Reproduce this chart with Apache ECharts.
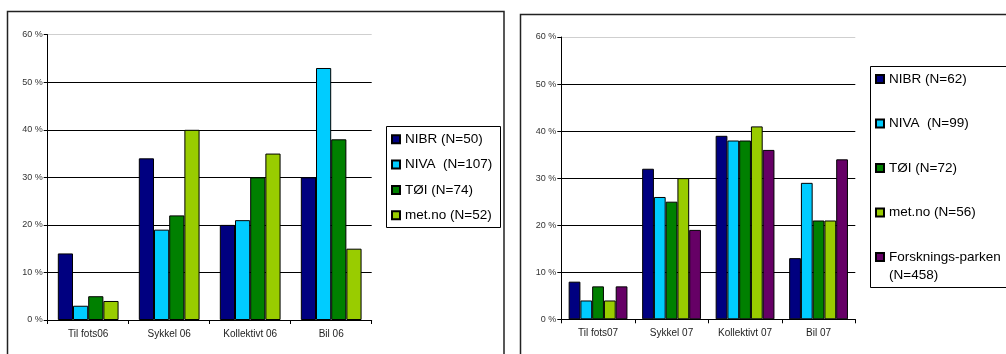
<!DOCTYPE html>
<html>
<head>
<meta charset="utf-8">
<script src="https://cdn.jsdelivr.net/npm/echarts@6/dist/echarts.min.js"></script>
<style>
    html, body { margin: 0; padding: 0; background: #fff; }
    #chart { width: 1006px; height: 354px; }
</style>
</head>
<body>
<div id="chart"></div>
<script>
// 数据

var cats06 = ['Til fots06', 'Sykkel 06', 'Kollektivt 06', 'Bil 06']
var cats07 = ['Til fots07', 'Sykkel 07', 'Kollektivt 07', 'Bil 07']

var names06 = ['NIBR (N=50)', 'NIVA  (N=107)', 'TØI (N=74)', 'met.no (N=52)']
var names07 = ['NIBR (N=62)', 'NIVA  (N=99)', 'TØI (N=72)', 'met.no (N=56)', 'Forsknings-parken (N=458)']

var nibr06 = [14, 34, 20, 30]
var niva06 = [3, 19, 21, 53]
var toi06 = [5, 22, 30, 38]
var met06 = [4, 40, 35, 15]

var nibr07 = [8, 32, 39, 13]
var niva07 = [4, 26, 38, 29]
var toi07 = [7, 25, 38, 21]
var met07 = [4, 30, 41, 21]
var park07 = [7, 19, 36, 34]

var yTicks = [0, 10, 20, 30, 40, 50, 60]

var colors = ['#000080', '#00ccff', '#008000', '#99cc00', '#660066']

var font = "'Liberation Sans', Arial, sans-serif"

// 坐标轴
function makeX(idx, cats) {
    return {
        type: 'category',
        gridIndex: idx,
        data: cats,
        axisLine: { lineStyle: { color: '#000', width: 1 } },
        axisTick: { show: true, length: 4, lineStyle: { color: '#000' } },
        axisLabel: { fontSize: 10, color: '#222', fontFamily: font, margin: 9 }
    }
}

function makeY(idx) {
    return {
        type: 'value',
        gridIndex: idx,
        min: yTicks[0],
        max: yTicks[yTicks.length - 1],
        interval: 10,
        axisLine: { show: true, lineStyle: { color: '#000', width: 1 } },
        axisTick: { show: true, length: 4, lineStyle: { color: '#000' } },
        axisLabel: { fontSize: 9, color: '#333', fontFamily: font, margin: 5, formatter: '{value} %' },
        splitLine: {
            show: true,
            lineStyle: { color: ['#000', '#000', '#000', '#000', '#000', '#000', '#cfcfcf'], width: 1 }
        }
    }
}

function makeBar(name, data, i, idx, gap) {
    return {
        name: name,
        type: 'bar',
        xAxisIndex: idx,
        yAxisIndex: idx,
        data: data,
        barGap: '0%',
        barCategoryGap: gap,
        itemStyle: { color: colors[i], borderColor: '#000', borderWidth: 1 }
    }
}

var series = [
    makeBar(names06[0], nibr06, 0, 0, '25%'),
    makeBar(names06[1], niva06, 1, 0, '25%'),
    makeBar(names06[2], toi06, 2, 0, '25%'),
    makeBar(names06[3], met06, 3, 0, '25%'),
    makeBar(names07[0], nibr07, 0, 1, '20%'),
    makeBar(names07[1], niva07, 1, 1, '20%'),
    makeBar(names07[2], toi07, 2, 1, '20%'),
    makeBar(names07[3], met07, 3, 1, '20%'),
    makeBar(names07[4], park07, 4, 1, '20%')
]

var legendText = { fontSize: 13.5, color: '#000', fontFamily: font, lineHeight: 14 }

var option = {
    animation: false,
    grid: [
        { left: 47.7, top: 34.7, width: 324, height: 285.3 },
        { left: 561.3, top: 37, width: 294, height: 282.3 }
    ],
    xAxis: [makeX(0, cats06), makeX(1, cats07)],
    yAxis: [makeY(0), makeY(1)],
    legend: [
        {
            data: names06,
            orient: 'vertical',
            left: 391,
            top: 132.3,
            padding: 0,
            icon: 'rect',
            itemWidth: 8,
            itemHeight: 8,
            itemGap: 11.3,
            textStyle: legendText
        },
        {
            data: names07.slice(0, 4),
            orient: 'vertical',
            left: 875,
            top: 72,
            padding: 0,
            icon: 'rect',
            itemWidth: 8,
            itemHeight: 8,
            itemGap: 30.5,
            textStyle: legendText
        },
        {
            // 两行的图例，前面空一行让图标对齐第一行
            data: [names07[4]],
            orient: 'vertical',
            left: 875,
            top: 230,
            padding: 0,
            icon: 'rect',
            itemWidth: 8,
            itemHeight: 8,
            formatter: function () { return ' \nForsknings-parken\n(N=458)' },
            textStyle: Object.assign({}, legendText, { lineHeight: 18 })
        }
    ],
    graphic: [
        // 外框
        { type: 'rect', shape: { x: 7.5, y: 11.5, width: 496.5, height: 360 }, style: { fill: 'none', stroke: '#222', lineWidth: 1.5 } },
        { type: 'rect', shape: { x: 520.5, y: 14.5, width: 500, height: 360 }, style: { fill: 'none', stroke: '#222', lineWidth: 1.5 } },
        // 图例框
        { type: 'rect', shape: { x: 386.5, y: 126.5, width: 114, height: 101 }, style: { fill: 'none', stroke: '#000', lineWidth: 1 } },
        { type: 'rect', shape: { x: 870.5, y: 66.5, width: 150, height: 221 }, style: { fill: 'none', stroke: '#000', lineWidth: 1 } }
    ],
    series: series
}

var myChart = echarts.init(document.getElementById('chart'))
myChart.setOption(option)
</script>
</body>
</html>
